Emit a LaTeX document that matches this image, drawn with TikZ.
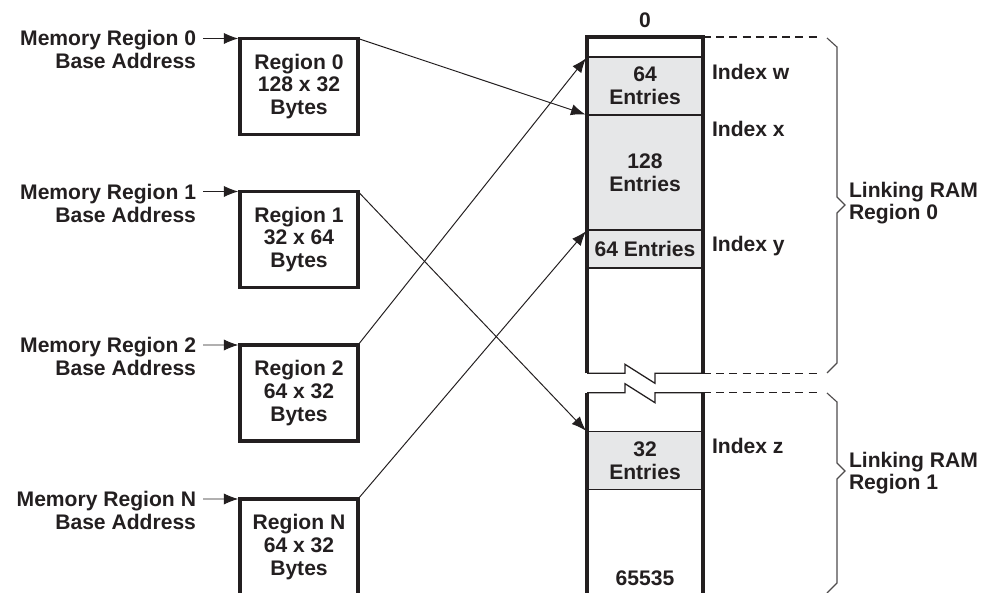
\documentclass[tikz,border=0pt]{standalone}
\usepackage{fontspec}
\setmainfont{Liberation Sans}
\usetikzlibrary{arrows.meta}
\definecolor{ink}{HTML}{231F20}
\definecolor{entrygray}{HTML}{E6E7E8}

\begin{document}
\begin{tikzpicture}[x=0.025cm, y=-0.025cm, font=\fontsize{15}{16.2}\selectfont\bfseries,
	every node/.style={inner sep=0pt, outer sep=0pt, text=ink},
	regbox/.style={draw=ink, line width=2.6pt, minimum width=2.95cm, minimum height=2.4cm, align=center},
	entrybox/.style={draw=ink, line width=0.8pt, fill=entrygray, minimum width=2.9cm, align=center},
	ptr/.style={draw=ink, line width=0.7pt, shorten >=1.2pt, -{Latex[length=3.6mm, width=2.8mm]}},
	wall/.style={draw=ink, line width=2.4pt},
	cut/.style={draw=ink, line width=0.9pt, line join=miter},
	guide/.style={draw=ink, line width=0.8pt, dash pattern=on 0.2cm off 0.13cm},
	brace/.style={draw=ink!80, line width=0.8pt}]

	\useasboundingbox (0,0) rectangle (989,593);
	\clip (0,0) rectangle (989,593);

	% Base addresses
	\node[anchor=north east, align=right] (mem0) at (196,30) {Memory Region 0\\Base Address};
	\node[anchor=north east, align=right] (mem1) at (196,184) {Memory Region 1\\Base Address};
	\node[anchor=north east, align=right] (mem2) at (196,337) {Memory Region 2\\Base Address};
	\node[anchor=north east, align=right] (memN) at (196,491) {Memory Region N\\Base Address};

	% Regions
	\node[regbox] (reg0) at (299,86.5) {Region 0\\128 x 32\\Bytes};
	\node[regbox] (reg1) at (299,239.5) {Region 1\\32 x 64\\Bytes};
	\node[regbox] (reg2) at (299,393) {Region 2\\64 x 32\\Bytes};
	\node[regbox] (regN) at (299,547) {Region N\\64 x 32\\Bytes};

	\coordinate (in0) at (203,38.5);
	\coordinate (in1) at (203,191.5);
	\coordinate (in2) at (203,345);
	\coordinate (inN) at (203,499);
	\draw[ptr] (in0) -- (reg0.north west);
	\draw[ptr] (in1) -- (reg1.north west);
	\draw[ptr] (in2) -- (reg2.north west);
	\draw[ptr] (inN) -- (regN.north west);

	% Linking RAM
	\node[entrybox, minimum height=1.45cm] (ew) at (645,86) {64\\Entries};
	\node[entrybox, minimum height=2.875cm] (ex) at (645,172.5) {128\\Entries};
	\node[entrybox, minimum height=0.95cm] (ey) at (645,249) {64 Entries};
	\node[entrybox, minimum height=1.43cm] (ez) at (645,460.5) {32\\Entries};
	\node (first) at (645,20) {0};
	\node (last) at (645,578) {65535};

	\draw[wall, line join=miter] (587,373.3) -- (587,37) -- (703,37) -- (703,373.3);
	\draw[wall] (587,392.7) -- (587,600);
	\draw[wall] (703,392.7) -- (703,600);
	\draw[cut] (587,373.3) -- (625,373.3) -- (625,364.3) -- (655,383.3) -- (655,373.3) -- (703,373.3);
	\draw[cut] (587,392.7) -- (625,392.7) -- (625,383.7) -- (655,402.7) -- (655,392.7) -- (703,392.7);

	\node[anchor=north west] (iw) at (712,64) {Index w};
	\node[anchor=north west] (ix) at (712,121) {Index x};
	\node[anchor=north west] (iy) at (712,236) {Index y};
	\node[anchor=north west] (iz) at (712,438) {Index z};

	\draw[guide] (703,37) -- (820,37);
	\draw[guide] (703,373.3) -- (820,373.3);
	\draw[guide] (703,392.7) -- (820,392.7);

	% Braces
	\draw[brace] (827,38) -- (837,47) -- (837,197) -- (845,205) -- (837,213) -- (837,363) -- (827,373);
	\draw[brace] (827,393) -- (837,402) -- (837,463) -- (845,471) -- (837,479) -- (837,583) -- (827,593);
	\node[anchor=west, align=left] (ram0) at (849,203) {Linking RAM\\Region 0};
	\node[anchor=west, align=left] (ram1) at (849,473) {Linking RAM\\Region 1};

	% Pointers into the table
	\draw[ptr] (reg0.north east) -- (ex.north west);
	\draw[ptr] (reg1.north east) -- (ez.north west);
	\draw[ptr] (reg2.north east) -- (ew.north west);
	\draw[ptr] (regN.north east) -- (ey.north west);
\end{tikzpicture}
\end{document}
